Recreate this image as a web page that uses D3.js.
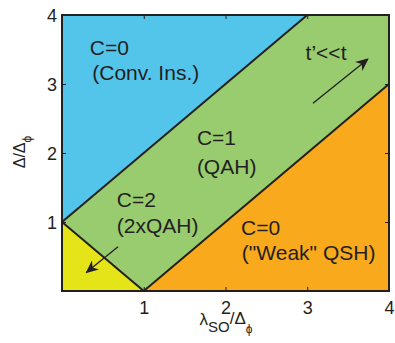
<!DOCTYPE html>
<html><head><meta charset="utf-8">
<script src="https://cdn.jsdelivr.net/npm/d3@7"></script>
<style>body{margin:0;background:#fff}svg{display:block}text{font-family:"Liberation Sans",Arial,Helvetica,sans-serif;fill:#231f20}</style>
</head><body>
<script>
// Axis domains and ticks
const xDomain = [0, 4];
const yDomain = [0, 4];
const xTickValues = [1, 2, 3, 4];
const yTickValues = [1, 2, 3, 4];
// Phase regions (polygons in data units, lambda_SO/Delta_phi vs Delta/Delta_phi)
const regionNames = ["C=0 conv", "C=1", "C=2", "C=0 weak"];
const regionColors = ["#54c5ea", "#99cc6f", "#e5e419", "#f9aa1c"];
const regionPolys = [
  [[0,1],[0,4],[3,4]],
  [[0,1],[3,4],[4,4],[4,3],[1,0]],
  [[0,0],[0,1],[1,0]],
  [[1,0],[4,0],[4,3]]
];
// Phase boundaries
const boundaries = [
  [[0,1],[3,4]],
  [[1,0],[4,3]],
  [[0,1],[1,0]]
];
// Arrows
const arrows = [
  [[3.07,2.72],[3.74,3.36]],
  [[0.685,0.64],[0.30,0.27]]
];
// Labels (text lines with anchor in data units)
const labelTexts = ["C=0", "(Conv. Ins.)", "C=1", "(QAH)", "C=2", "(2xQAH)", "C=0", "(\"Weak\" QSH)", "t\u2019<<t"];
const labelX = [0.34, 0.37, 1.65, 1.65, 0.67, 0.67, 2.19, 2.20, 2.98];
const labelY = [3.42, 3.06, 2.12, 1.70, 1.22, 0.84, 0.81, 0.45, 3.35];

const W = 395, H = 343;
const m = {left: 62, top: 15, right: 389, bottom: 291};
const svg = d3.select("body").append("svg").attr("width", W).attr("height", H);
const x = d3.scaleLinear().domain(xDomain).range([m.left, m.right]);
const y = d3.scaleLinear().domain(yDomain).range([m.bottom, m.top]);

const defs = svg.append("defs");
defs.append("marker").attr("id","ah").attr("viewBox","0 0 10 10").attr("refX",9).attr("refY",5)
  .attr("markerWidth",13).attr("markerHeight",13).attr("markerUnits","userSpaceOnUse").attr("orient","auto")
  .append("path").attr("d","M0,0.5 L10,5 L0,9.5 L3,5 Z").attr("fill","#231f20");

const line = d3.line().x(d => x(d[0])).y(d => y(d[1]));
svg.selectAll("path.region").data(regionPolys).join("path").attr("class","region")
  .attr("d", d => line(d) + "Z").attr("fill", (d,i) => regionColors[i]).attr("stroke", (d,i) => regionColors[i]).attr("stroke-width",0.5);

svg.selectAll("path.bd").data(boundaries).join("path").attr("class","bd")
  .attr("d", line).attr("stroke","#231f20").attr("stroke-width",2).attr("fill","none");

svg.selectAll("path.arr").data(arrows).join("path").attr("class","arr")
  .attr("d", line).attr("stroke","#231f20").attr("stroke-width",1.3).attr("fill","none").attr("marker-end","url(#ah)");

// Axes
const tickLen = 4;
const gx = svg.append("g").attr("transform", `translate(0,${m.bottom})`)
  .call(d3.axisBottom(x).tickValues(xTickValues).tickSizeInner(-tickLen).tickSizeOuter(0).tickPadding(10).tickFormat(d3.format("d")));
const gy = svg.append("g").attr("transform", `translate(${m.left},0)`)
  .call(d3.axisLeft(y).tickValues(yTickValues).tickSizeInner(-tickLen).tickSizeOuter(0).tickPadding(5).tickFormat(d3.format("d")));
const gx2 = svg.append("g").attr("transform", `translate(0,${m.top})`)
  .call(d3.axisTop(x).tickValues(xTickValues).tickSizeInner(-tickLen).tickSizeOuter(0).tickFormat(""));
const gy2 = svg.append("g").attr("transform", `translate(${m.right},0)`)
  .call(d3.axisRight(y).tickValues(yTickValues).tickSizeInner(-tickLen).tickSizeOuter(0).tickFormat(""));
[gx, gy, gx2, gy2].forEach(g => {
  g.select(".domain").remove();
  g.selectAll(".tick line").attr("stroke","#231f20").attr("stroke-width",1);
  g.selectAll("text").attr("font-size",18).attr("fill","#231f20").style("font-family","'Liberation Sans',Arial,sans-serif");
});
gy.selectAll("text").attr("dy","0.35em");

svg.append("rect").attr("x", m.left).attr("y", m.top).attr("width", m.right - m.left).attr("height", m.bottom - m.top)
  .attr("fill","none").attr("stroke","#231f20").attr("stroke-width",2);

// Region labels
svg.selectAll("text.lab").data(labelTexts).join("text").attr("class","lab")
  .attr("x", (d,i) => x(labelX[i])).attr("y", (d,i) => y(labelY[i]))
  .attr("font-size", 21).text(d => d);

// Axis titles
const xt = svg.append("text").attr("x", 226).attr("y", 325).attr("text-anchor","middle").attr("font-size",17);
xt.append("tspan").text("\u03bb");
xt.append("tspan").attr("dy",7).attr("font-size",15).text("SO");
xt.append("tspan").attr("dy",-8).text("/\u0394");
xt.append("tspan").attr("dy",9).attr("font-size",12).text("\u03d5");

const yt = svg.append("text").attr("transform","translate(25,152) rotate(-90)").attr("text-anchor","middle").attr("font-size",16);
yt.append("tspan").text("\u0394/\u0394");
yt.append("tspan").attr("dy",6).attr("font-size",12).text("\u03d5");
</script>
</body></html>
